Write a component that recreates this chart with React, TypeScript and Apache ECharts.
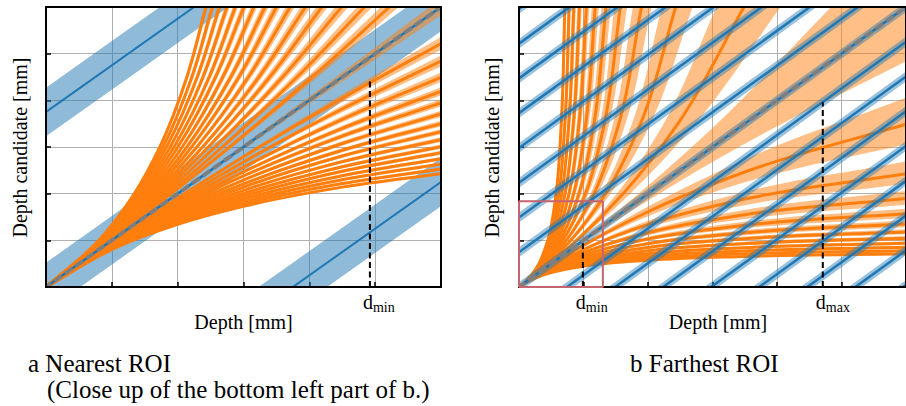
import React, { useEffect, useRef } from 'react';
import * as echarts from 'echarts';

// ---------------- texts ----------------
const X_TITLE = 'Depth [mm]';
const Y_TITLE = 'Depth candidate [mm]';
const CAPTION_A = ['a Nearest ROI', '(Close up of the bottom left part of b.)'];
const CAPTION_B = 'b Farthest ROI';

// ---------------- panel a (nearest ROI) ----------------
// depth positions at which the candidate curves were read
const XS_A = [0, 1, 2, 3, 4.5, 6];
// candidate curves (flat side; the steep side is the same curve seen across the diagonal)
const CURVE_A = [
  [0, 0.976, 1.905, 2.791, 4.045, 5.217],
  [0, 0.962, 1.852, 2.679, 3.814, 4.839],
  [0, 0.947, 1.799, 2.568, 3.594, 4.491],
  [0, 0.933, 1.748, 2.467, 3.399, 4.19],
  [0, 0.92, 1.704, 2.379, 3.234, 3.942],
  [0, 0.907, 1.658, 2.292, 3.075, 3.708],
  [0, 0.894, 1.616, 2.211, 2.931, 3.501],
  [0, 0.882, 1.577, 2.14, 2.807, 3.326],
  [0, 0.87, 1.538, 2.069, 2.687, 3.158],
  [0, 0.858, 1.502, 2.003, 2.576, 3.006],
  [0, 0.847, 1.468, 1.944, 2.48, 2.876],
  [0, 0.835, 1.435, 1.886, 2.385, 2.75],
  [0, 0.824, 1.403, 1.83, 2.298, 2.634],
  [0, 0.814, 1.372, 1.778, 2.216, 2.527],
  [0, 0.803, 1.342, 1.729, 2.14, 2.429],
];
// band edge nearer to the diagonal
const NEAR_A = [
  [0, 0.98, 1.923, 2.83, 4.128, 5.357],
  [0, 0.966, 1.869, 2.715, 3.888, 4.959],
  [0, 0.951, 1.815, 2.602, 3.66, 4.594],
  [0, 0.937, 1.764, 2.498, 3.458, 4.28],
  [0, 0.924, 1.718, 2.408, 3.287, 4.021],
  [0, 0.911, 1.672, 2.318, 3.123, 3.778],
  [0, 0.898, 1.629, 2.235, 2.974, 3.563],
  [0, 0.886, 1.59, 2.163, 2.847, 3.382],
  [0, 0.873, 1.55, 2.091, 2.723, 3.209],
  [0, 0.861, 1.513, 2.023, 2.609, 3.052],
  [0, 0.85, 1.479, 1.963, 2.511, 2.918],
  [0, 0.839, 1.445, 1.904, 2.414, 2.788],
  [0, 0.828, 1.412, 1.847, 2.324, 2.669],
  [0, 0.817, 1.381, 1.794, 2.241, 2.56],
  [0, 0.806, 1.351, 1.744, 2.163, 2.459],
];
// band edge farther from the diagonal
const FAR_A = [
  [0, 0.971, 1.887, 2.752, 3.965, 5.085],
  [0, 0.957, 1.835, 2.643, 3.742, 4.724],
  [0, 0.943, 1.783, 2.536, 3.531, 4.392],
  [0, 0.929, 1.733, 2.437, 3.342, 4.104],
  [0, 0.916, 1.689, 2.351, 3.182, 3.866],
  [0, 0.903, 1.645, 2.266, 3.028, 3.641],
  [0, 0.89, 1.603, 2.187, 2.888, 3.44],
  [0, 0.878, 1.565, 2.117, 2.768, 3.272],
  [0, 0.866, 1.527, 2.048, 2.651, 3.109],
  [0, 0.854, 1.49, 1.983, 2.543, 2.962],
  [0, 0.843, 1.458, 1.926, 2.45, 2.836],
  [0, 0.832, 1.425, 1.868, 2.357, 2.712],
  [0, 0.821, 1.393, 1.814, 2.272, 2.6],
  [0, 0.81, 1.362, 1.763, 2.192, 2.496],
  [0, 0.8, 1.333, 1.714, 2.118, 2.4],
];
const DIAG_EDGE_A = [0, 0.995, 1.98, 2.956, 4.401, 5.825];
const BLUE_OFFSETS_A = [3.75, 0, -3.75];
const BLUE_HALF_A = 0.52;
const D_MIN_A = { x: 4.92, top: 4.43 };

// ---------------- panel b (farthest ROI) ----------------
const XS_B = [0, 0.125, 0.25, 0.5, 1, 2, 3.5, 6];
const CURVE_B = [
  [0, 0.1232, 0.2427, 0.4717, 0.8929, 1.6129, 2.4648, 3.4884],
  [0, 0.1213, 0.2356, 0.4454, 0.8032, 1.3423, 1.8843, 2.4291],
  [0, 0.1196, 0.2294, 0.4237, 0.7353, 1.1628, 1.5487, 1.8987],
  [0, 0.1181, 0.2237, 0.4049, 0.6803, 1.0309, 1.3233, 1.5707],
  [0, 0.1166, 0.2186, 0.3883, 0.6349, 0.9302, 1.1618, 1.3483],
  [0, 0.1152, 0.2137, 0.3731, 0.5952, 0.8475, 1.0355, 1.1811],
  [0, 0.1138, 0.2088, 0.3584, 0.5587, 0.7752, 0.9296, 1.0453],
  [0, 0.1124, 0.2041, 0.3448, 0.5263, 0.7143, 0.8434, 0.9375],
  [0, 0.111, 0.1996, 0.3322, 0.4975, 0.6623, 0.7718, 0.8499],
  [0, 0.1096, 0.1953, 0.3205, 0.4717, 0.6173, 0.7114, 0.7772],
  [0, 0.1082, 0.1908, 0.3086, 0.4464, 0.5747, 0.6554, 0.7109],
];
const NEAR_B = [
  [0, 0.1238, 0.2451, 0.4808, 0.9259, 1.7241, 2.7344, 4.0541],
  [0, 0.1219, 0.2378, 0.4535, 0.8299, 1.4184, 2.0378, 2.6906],
  [0, 0.1202, 0.2315, 0.431, 0.7576, 1.2195, 1.6509, 2.0548],
  [0, 0.1186, 0.2257, 0.4115, 0.6993, 1.0753, 1.3972, 1.676],
  [0, 0.1172, 0.2205, 0.3945, 0.6515, 0.9662, 1.2185, 1.4252],
  [0, 0.1157, 0.2155, 0.3788, 0.6098, 0.8772, 1.0802, 1.2397],
  [0, 0.1143, 0.2105, 0.3636, 0.5714, 0.8, 0.9655, 1.0909],
  [0, 0.1129, 0.2058, 0.3497, 0.5376, 0.7353, 0.8728, 0.974],
  [0, 0.1115, 0.2012, 0.3367, 0.5076, 0.6803, 0.7964, 0.8798],
  [0, 0.1101, 0.1969, 0.3247, 0.4808, 0.6329, 0.7322, 0.8021],
  [0, 0.1087, 0.1923, 0.3125, 0.4545, 0.5882, 0.6731, 0.7317],
];
const FAR_B = [
  [0, 0.1225, 0.2404, 0.463, 0.8621, 1.5152, 2.2436, 3.0612],
  [0, 0.1207, 0.2334, 0.4376, 0.7782, 1.2739, 1.7522, 2.214],
  [0, 0.119, 0.2273, 0.4167, 0.7143, 1.1111, 1.4583, 1.7647],
  [0, 0.1175, 0.2217, 0.3984, 0.6623, 0.9901, 1.2567, 1.4778],
  [0, 0.1161, 0.2167, 0.3824, 0.6192, 0.8969, 1.1102, 1.2793],
  [0, 0.1147, 0.2119, 0.3676, 0.5814, 0.8197, 0.9943, 1.1278],
  [0, 0.1133, 0.207, 0.3534, 0.5464, 0.7519, 0.8963, 1.0033],
  [0, 0.1119, 0.2024, 0.3401, 0.5155, 0.6944, 0.8159, 0.9036],
  [0, 0.1105, 0.198, 0.3279, 0.4878, 0.6452, 0.7487, 0.8219],
  [0, 0.1092, 0.1938, 0.3165, 0.463, 0.6024, 0.6917, 0.7538],
  [0, 0.1078, 0.1894, 0.3049, 0.4386, 0.5618, 0.6387, 0.6912],
];
const DIAG_EDGE_B = [0, 0.1244, 0.2475, 0.4902, 0.9615, 1.8519, 3.0702, 4.8387];
const BLUE_OFFSETS_B = [
  -5.96, -5.215, -4.47, -3.725, -2.98, -2.235, -1.49, -0.745, 0,
  0.745, 1.49, 2.235, 2.98, 3.725, 4.47, 5.215, 5.96,
];
const D_MIN_B = { x: 0.99, top: 0.94 };
const D_MAX_B = { x: 4.71, top: 3.96 };
const ROI_BOX_B = { x: 1.3, y: 1.84 };

const TICK_LABELS = [
  { grid: 0, at: D_MIN_A.x, base: 'd', sub: 'min' },
  { grid: 1, at: D_MIN_B.x, base: 'd', sub: 'min' },
  { grid: 1, at: D_MAX_B.x, base: 'd', sub: 'max' },
];

// ---------------- styles ----------------
const ORANGE = '#ff7f0e';
const ORANGE_BAND = 'rgba(255,127,14,0.5)';
const BLUE = '#1f77b4';
const BLUE_BAND = 'rgba(31,119,180,0.5)';
const GREY = 'rgba(128,128,128,0.95)';
const FONT = '"Liberation Serif", "Times New Roman", Times, serif';

type Pt = number[];
const flat = (xs: number[], row: number[]): Pt[] => xs.map((x, i) => [x, row[i]]);
const mirror = (xs: number[], row: number[]): Pt[] => xs.map((x, i) => [row[i], x]);

const f2 = (v: number) => v.toFixed(2);

function smoothD(p: Pt[], start: string): string {
  const n = p.length;
  const tan: Pt[] = [];
  for (let i = 0; i < n; i++) {
    let tx: number;
    let ty: number;
    if (i === 0) {
      tx = p[1][0] - p[0][0];
      ty = p[1][1] - p[0][1];
    } else if (i === n - 1) {
      tx = p[n - 1][0] - p[n - 2][0];
      ty = p[n - 1][1] - p[n - 2][1];
    } else {
      const ax = p[i][0] - p[i - 1][0];
      const ay = p[i][1] - p[i - 1][1];
      const bx = p[i + 1][0] - p[i][0];
      const by = p[i + 1][1] - p[i][1];
      const la = Math.hypot(ax, ay) || 1e-9;
      const lb = Math.hypot(bx, by) || 1e-9;
      tx = (ax / la) * lb + (bx / lb) * la;
      ty = (ay / la) * lb + (by / lb) * la;
    }
    const l = Math.hypot(tx, ty) || 1;
    tan.push([tx / l, ty / l]);
  }
  let d = `${start}${f2(p[0][0])},${f2(p[0][1])}`;
  for (let i = 0; i < n - 1; i++) {
    const s = Math.hypot(p[i + 1][0] - p[i][0], p[i + 1][1] - p[i][1]) / 3;
    const c1x = p[i][0] + tan[i][0] * s;
    const c1y = p[i][1] + tan[i][1] * s;
    const c2x = p[i + 1][0] - tan[i + 1][0] * s;
    const c2y = p[i + 1][1] - tan[i + 1][1] * s;
    d += ` C${f2(c1x)},${f2(c1y)} ${f2(c2x)},${f2(c2y)} ${f2(p[i + 1][0])},${f2(p[i + 1][1])}`;
  }
  return d;
}

interface BandSpec { a: Pt[]; b: Pt[]; join?: Pt[] }

function bandSeries(grid: number, specs: BandSpec[], color: string) {
  return {
    type: 'custom',
    coordinateSystem: 'cartesian2d',
    xAxisIndex: grid,
    yAxisIndex: grid,
    clip: true,
    silent: true,
    data: specs.map(() => [0, 0]),
    renderItem: (params: any, api: any) => {
      const s = specs[params.dataIndex];
      const A = s.a.map((q) => api.coord(q));
      const B = s.b.map((q) => api.coord(q)).reverse();
      const J = (s.join || []).map((q) => api.coord(q));
      let d = smoothD(A, 'M');
      J.forEach((q: Pt) => { d += ` L${f2(q[0])},${f2(q[1])}`; });
      d += ' ' + smoothD(B, 'L') + ' Z';
      return { type: 'path', shape: { pathData: d }, style: { fill: color, stroke: 'none' } };
    },
  };
}

function curveSeries(grid: number, curves: Pt[][], color: string, width: number, dash?: number[]) {
  return {
    type: 'custom',
    coordinateSystem: 'cartesian2d',
    xAxisIndex: grid,
    yAxisIndex: grid,
    clip: true,
    silent: true,
    data: curves.map(() => [0, 0]),
    renderItem: (params: any, api: any) => {
      const P = curves[params.dataIndex].map((q) => api.coord(q));
      return {
        type: 'path',
        shape: { pathData: smoothD(P, 'M') },
        style: { fill: 'none', stroke: color, lineWidth: width, lineDash: dash || null },
      };
    },
  };
}

function orangeBandSpecs(xs: number[], near: number[][], far: number[][], diagEdge: number[]): BandSpec[] {
  const specs: BandSpec[] = [{ a: flat(xs, diagEdge), b: mirror(xs, diagEdge), join: [[6.5, 6.5]] }];
  near.forEach((_, i) => {
    specs.push({ a: flat(xs, far[i]), b: flat(xs, near[i]) });
    specs.push({ a: mirror(xs, far[i]), b: mirror(xs, near[i]) });
  });
  return specs;
}

function orangeCurves(xs: number[], rows: number[][]): Pt[][] {
  const out: Pt[][] = [];
  rows.forEach((r) => { out.push(flat(xs, r)); out.push(mirror(xs, r)); });
  return out;
}

const slopeLine = (o: number): Pt[] => [[-1, -1 + o], [7, 7 + o]];

function axis(grid: number) {
  return {
    type: 'value',
    gridIndex: grid,
    min: 0,
    max: 6,
    interval: 1,
    axisLine: { show: false },
    axisLabel: { show: false },
    axisTick: { show: true, inside: true, length: 5, lineStyle: { color: '#000', width: 1.5 } },
    splitLine: { show: true, lineStyle: { color: '#b0b0b0', width: 1 } },
  };
}

function dashedLine(grid: number, d: { x: number; top: number }) {
  return {
    type: 'line',
    xAxisIndex: grid,
    yAxisIndex: grid,
    data: [[d.x, 0], [d.x, d.top]],
    symbol: 'none',
    silent: true,
    z: 3,
    lineStyle: { color: '#000', width: 2, type: [6, 3.5] },
  };
}

function buildOption(): any {
  const blueBandsA: BandSpec[] = BLUE_OFFSETS_A.map((o) => ({
    a: slopeLine(o - BLUE_HALF_A),
    b: slopeLine(o + BLUE_HALF_A),
  }));
  const series: any[] = [
    // panel a
    bandSeries(0, blueBandsA, BLUE_BAND),
    curveSeries(0, BLUE_OFFSETS_A.filter((o) => o !== 0).map(slopeLine), BLUE, 2),
    bandSeries(0, orangeBandSpecs(XS_A, NEAR_A, FAR_A, DIAG_EDGE_A), ORANGE_BAND),
    curveSeries(0, orangeCurves(XS_A, CURVE_A), ORANGE, 3),
    curveSeries(0, [slopeLine(0)], BLUE, 2.5),
    curveSeries(0, [slopeLine(0)], GREY, 4, [9, 4]),
    dashedLine(0, D_MIN_A),
    // panel b
    bandSeries(1, orangeBandSpecs(XS_B, NEAR_B, FAR_B, DIAG_EDGE_B), ORANGE_BAND),
    curveSeries(1, orangeCurves(XS_B, CURVE_B), ORANGE, 3),
    curveSeries(1, BLUE_OFFSETS_B.map(slopeLine), 'rgba(31,119,180,0.45)', 8),
    curveSeries(1, BLUE_OFFSETS_B.map(slopeLine), BLUE, 2.5),
    curveSeries(1, [slopeLine(0)], GREY, 4, [9, 4]),
    dashedLine(1, D_MIN_B),
    dashedLine(1, D_MAX_B),
    {
      type: 'line',
      xAxisIndex: 1,
      yAxisIndex: 1,
      data: [[0, 0], [ROI_BOX_B.x, 0], [ROI_BOX_B.x, ROI_BOX_B.y], [0, ROI_BOX_B.y], [0, 0]],
      symbol: 'none',
      silent: true,
      clip: false,
      z: 12,
      lineStyle: { color: '#c4646e', width: 2 },
    },
  ];
  const gridCommon = { show: true, borderColor: '#000', borderWidth: 2, backgroundColor: 'transparent', z: 10 };
  return {
    animation: false,
    backgroundColor: '#fff',
    grid: [
      { ...gridCommon, left: 46, top: 7, width: 395, height: 280 },
      { ...gridCommon, left: 519, top: 7, width: 396, height: 280 },
    ],
    xAxis: [axis(0), axis(1)],
    yAxis: [axis(0), axis(1)],
    series,
  };
}

function txt(x: number, y: number, text: string, size: number, align: string, rotation = 0) {
  return {
    type: 'text',
    x,
    y,
    rotation,
    silent: true,
    z: 20,
    style: {
      text,
      font: `${size}px ${FONT}`,
      fill: '#000',
      align,
      textAlign: align,
      verticalAlign: 'middle',
      textVerticalAlign: 'middle',
    },
  };
}

export default function App() {
  const ref = useRef<HTMLDivElement>(null);
  useEffect(() => {
    document.body.style.margin = '0';
    const chart = echarts.init(ref.current as HTMLDivElement, undefined, { renderer: 'svg' });
    chart.setOption(buildOption());
    const graphic: any[] = [
      txt(20, 147.5, Y_TITLE, 20, 'center', Math.PI / 2),
      txt(492, 147.5, Y_TITLE, 20, 'center', Math.PI / 2),
      txt(243.5, 321.5, X_TITLE, 20, 'center'),
      txt(718, 321.5, X_TITLE, 20, 'center'),
      txt(28, 363.5, CAPTION_A[0], 25, 'left'),
      txt(47, 389, CAPTION_A[1], 25, 'left'),
      txt(630, 363.5, CAPTION_B, 25, 'left'),
    ];
    TICK_LABELS.forEach((t) => {
      const p = chart.convertToPixel({ gridIndex: t.grid } as any, [t.at, 0]) as number[];
      const x0 = p[0] - 7;
      graphic.push(txt(x0, 301.5, t.base, 20, 'left'));
      graphic.push(txt(x0 + 10, 307.5, t.sub, 14, 'left'));
    });
    chart.setOption({ graphic });
    return () => chart.dispose();
  }, []);
  return <div ref={ref} style={{ width: 906, height: 406 }} />;
}
